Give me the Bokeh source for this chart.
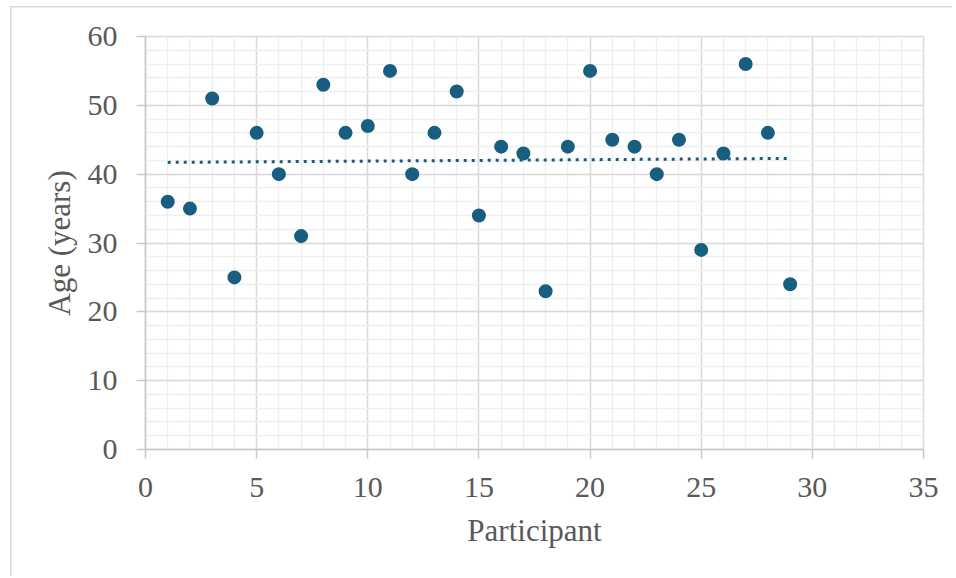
import numpy as np
from bokeh.plotting import figure
from bokeh.models import Range1d, SingleIntervalTicker
from bokeh.embed import file_html
from bokeh.resources import INLINE

participant = list(range(1, 30))
age = [36, 35, 51, 25, 46, 40, 31, 53, 46, 47, 55, 40, 46, 52, 34, 44, 43, 23,
       44, 55, 45, 44, 40, 45, 29, 43, 56, 46, 24]

x_label = "Participant"
y_label = "Age (years)"

COLOR = "#175E80"
TXT = "#595959"
FONT = "'Liberation Serif', 'DejaVu Serif', serif"

p = figure(width=952, height=576, output_backend="svg", toolbar_location=None,
           x_range=Range1d(0, 35), y_range=Range1d(0, 60),
           min_border_left=145, min_border_right=29, min_border_top=36, min_border_bottom=127)
p.border_fill_alpha = 0
p.background_fill_color = "white"
p.styles = {
    "background": "linear-gradient(#d9d9d9, #d9d9d9) 10px 6px / 1.5px 100% no-repeat, "
                  "linear-gradient(#d9d9d9, #d9d9d9) 10px 6px / 100% 1.5px no-repeat, white",
}

p.outline_line_color = "#d9d9d9"
p.outline_line_width = 1.5

p.xaxis.ticker = SingleIntervalTicker(interval=5, num_minor_ticks=5)
p.yaxis.ticker = SingleIntervalTicker(interval=10, num_minor_ticks=5)

for ax in (p.xaxis[0], p.yaxis[0]):
    ax.axis_line_color = "#c8c8c8"
    ax.axis_line_width = 1.5
    ax.major_tick_line_color = "#c8c8c8"
    ax.major_tick_line_width = 1.5
    ax.major_tick_out = 9
    ax.major_tick_in = 0
    ax.minor_tick_out = 0
    ax.minor_tick_in = 0
    ax.major_label_text_font = FONT
    ax.major_label_text_font_size = "30px"
    ax.major_label_text_color = TXT
    ax.axis_label_text_font = FONT
    ax.axis_label_text_font_size = "31px"
    ax.axis_label_text_font_style = "normal"
    ax.axis_label_text_color = TXT

p.xaxis.axis_label = x_label
p.yaxis.axis_label = y_label
p.xaxis.major_label_standoff = 19
p.yaxis.major_label_standoff = 19
p.xaxis.axis_label_standoff = 13
p.yaxis.axis_label_standoff = 8

for g in (p.xgrid[0], p.ygrid[0]):
    g.grid_line_color = "#d9d9d9"
    g.grid_line_width = 1.4
    g.minor_grid_line_color = "#efefef"
    g.minor_grid_line_width = 1.4

# linear trend line computed from the data
coef = np.polyfit(participant, age, 1)
tx = [participant[0], participant[-1]]
ty = [float(np.polyval(coef, v)) for v in tx]
p.line(tx, ty, line_color=COLOR, line_width=3, line_dash="3 5")

p.scatter(participant, age, size=14, fill_color=COLOR, line_color=COLOR, line_width=0)

open("out.html", "w").write(file_html(p, INLINE))
